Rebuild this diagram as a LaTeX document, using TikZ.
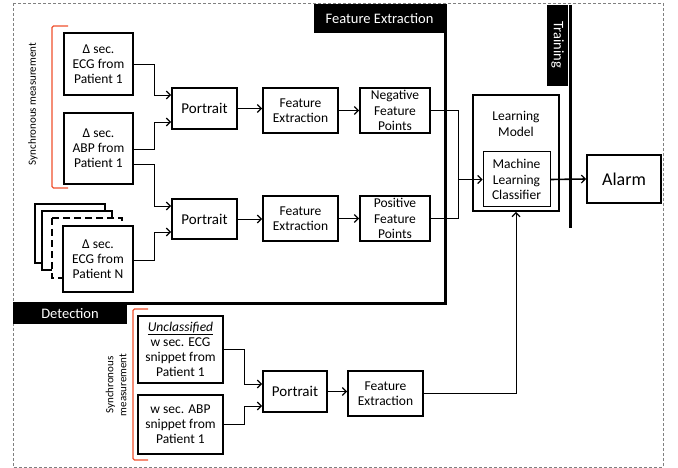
\documentclass[tikz,border=0pt]{standalone}
\usepackage{fontspec}
\setmainfont{Carlito}
\usetikzlibrary{arrows.meta,calc}
\definecolor{brk}{RGB}{240,80,45}
\begin{document}
\begin{tikzpicture}[x=1pt,y=-1pt,
  box/.style={draw,line width=1.8pt,align=center,inner sep=0pt,font=\fontsize{13.5}{15.2}\selectfont},
  thinbox/.style={draw,line width=1pt,align=center,inner sep=0pt,font=\fontsize{13.5}{15.2}\selectfont},
  pbox/.style={box,font=\fontsize{15}{17}\selectfont},
  conn/.style={line width=0.8pt,-{Straight Barb[length=4pt,width=8pt,line width=1.2pt]}},
  plain/.style={line width=0.8pt},
  tag/.style={fill=black,text=white,inner sep=0pt,font=\fontsize{14.5}{17}\selectfont},
  region/.style={line width=3pt},
  bracket/.style={draw=brk,line width=1.4pt,rounded corners=1.5pt},
  side/.style={font=\fontsize{11}{13}\selectfont,align=center}]
\useasboundingbox (0,0) rectangle (678,468);
\draw[gray,densely dashed,line width=0.8pt] (13,3) rectangle (663,467);

% region lines and tags
\draw[region] (445,4) -- (445,303.5) -- (13,303.5);
\fill (314,4) rectangle (445,33);
\node[tag] (fetag) at (379.5,19) {Feature Extraction};
\draw[region] (570,5) -- (570,228);
\fill (547,5) rectangle (568,86);
\node[tag,rotate=-90] (trtag) at (557.5,45) {Training};
\fill (13,303) rectangle (127,324);
\node[tag] (dettag) at (70,313.5) {Detection};

% training inputs
\node[box,minimum width=69pt,minimum height=62pt] (ecg1) at (98.5,64) {Δ sec.\\ECG from\\Patient 1};
\node[box,minimum width=69pt,minimum height=71pt] (abp1) at (98.5,148.5) {Δ sec.\\ABP from\\Patient 1};
\draw[line width=1.8pt,fill=white] (35,204) rectangle (105,263);
\draw[line width=1.8pt,fill=white] (42,211) rectangle (112,270);
\draw[line width=1.8pt,fill=white,dash pattern=on 7pt off 4pt] (52,218) rectangle (122,278);
\node[box,fill=white,minimum width=70pt,minimum height=66pt] (ecgN) at (98,259) {Δ sec.\\ECG from\\Patient N};
\draw[bracket] (68,26) -- (52,26) -- (52,188) -- (68,188);
\node[side,rotate=90] (sync1) at (33,104) {Synchronous measurement};

\node[pbox,minimum width=65pt,minimum height=41pt] (p1) at (204.5,108.5) {Portrait};
\node[pbox,minimum width=65pt,minimum height=40pt] (p2) at (204.5,219) {Portrait};
\node[box,minimum width=75pt,minimum height=45pt] (fe1) at (300.5,110.5) {Feature\\Extraction};
\node[box,minimum width=75pt,minimum height=45pt] (fe2) at (300.5,218.5) {Feature\\Extraction};
\node[box,minimum width=70pt,minimum height=45pt] (nfp) at (395,110.5) {Negative\\Feature\\Points};
\node[box,minimum width=70pt,minimum height=45pt] (pfp) at (395,218.5) {Positive\\Feature\\Points};

% learning model
\node[box,minimum width=86pt,minimum height=116pt] (lm) at (516,153) {};
\node[align=center,inner sep=0pt,font=\fontsize{13.5}{15.2}\selectfont] (lmtext) at (516,124) {Learning\\Model};
\node[thinbox,minimum width=67pt,minimum height=55pt] (mlc) at (516.5,179.5) {Machine\\Learning\\Classifier};
\node[box,minimum width=74pt,minimum height=48pt,font=\fontsize{18}{21}\selectfont] (alarm) at (624,179) {Alarm};

% detection inputs
\node[box,minimum width=85pt,minimum height=67pt] (uecg) at (180.5,349.5) {\underline{\textit{Unclassified}}\\w sec. ECG\\snippet from\\Patient 1};
\node[box,minimum width=85pt,minimum height=59pt] (uabp) at (180.5,424.5) {w sec. ABP\\snippet from\\Patient 1};
\draw[bracket] (148,309) -- (133,309) -- (133,460) -- (148,460);
\node[side,rotate=90] (sync2) at (116,385) {Synchronous\\measurement};
\node[pbox,minimum width=64pt,minimum height=41pt] (pd) at (295,391.5) {Portrait};
\node[box,minimum width=75pt,minimum height=45pt] (fed) at (385.5,393.5) {Feature\\Extraction};

% connectors (training)
\draw[conn] (ecg1.east) -- ++(20,0) |- ($(p1.west)+(0,-13.5)$);
\draw[conn] ($(abp1.east)+(0,0.5)$) -- ++(20,0) |- ($(p1.west)+(0,13.5)$);
\draw[conn] ($(abp1.east)+(0,15.5)$) -- ++(20,0) |- ($(p2.west)+(0,-13)$);
\draw[conn] ($(ecgN.east)+(0,1)$) -- ++(20,0) |- ($(p2.west)+(0,13)$);
\draw[conn] (p1.east) -- (p1.east -| fe1.west);
\draw[conn] (p2.east) -- (p2.east -| fe2.west);
\draw[conn] (fe1.east) -- (fe1.east -| nfp.west);
\draw[conn] (fe2.east) -- (fe2.east -| pfp.west);
\draw[plain] (nfp.east) -- ++(27,0) |- (pfp.east);
\coordinate (join) at ($(mlc.west -| nfp.east)+(27,0)$);
\draw[conn,line width=1.4pt] (join) -- (mlc.west);
\draw[conn,line width=1.6pt] (mlc.east) -- (alarm.west);

% connectors (detection)
\draw[conn] (uecg.east) -- ++(20,0) |- ($(pd.west)+(0,-7.5)$);
\draw[conn] (uabp.east) -- ++(20,0) |- ($(pd.west)+(0,14.5)$);
\draw[conn] (pd.east) -- (pd.east -| fed.west);
\draw[conn] (fed.east) -| (lm.south);
\end{tikzpicture}
\end{document}
